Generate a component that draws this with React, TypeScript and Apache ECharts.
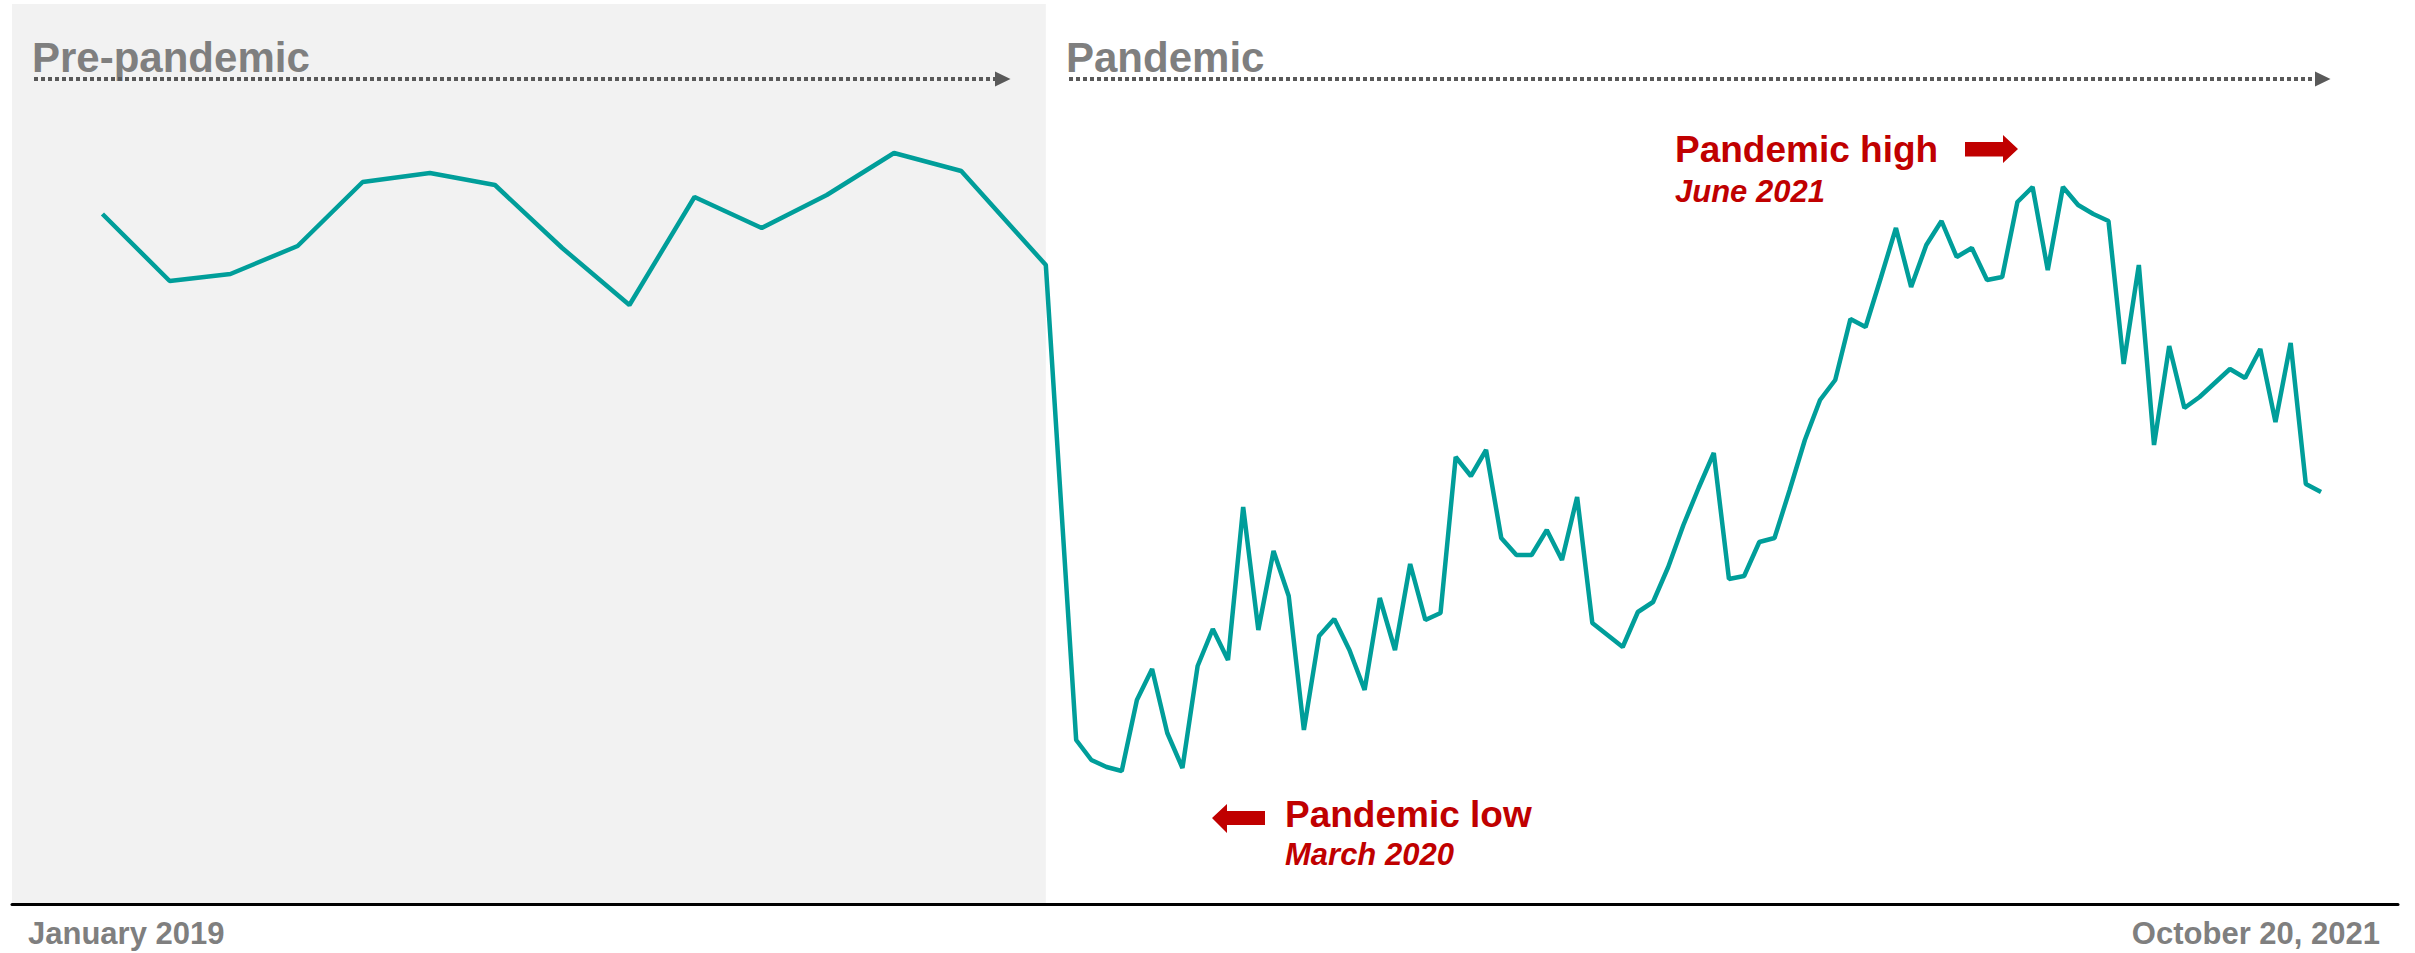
import React, { useEffect, useRef } from 'react';
import * as echarts from 'echarts';

// ---- data ----
const monthlyDates = [
  '2019-01-01', '2019-02-01', '2019-03-01', '2019-04-01', '2019-05-01', '2019-06-01',
  '2019-07-01', '2019-08-01', '2019-09-01', '2019-10-01', '2019-11-01', '2019-12-01',
  '2020-01-01', '2020-02-01', '2020-03-11',
];
const monthlyValues = [69.0, 62.3, 63.0, 65.8, 72.2, 73.1, 71.9, 65.6, 59.9, 70.7, 67.6, 70.9, 75.1, 73.3, 63.9];

const weeklyStart = '2020-03-25';
const weeklyValues = [
  16.4, 14.4, 13.7, 13.3, 20.4, 23.5, 17.1, 13.6, 23.8, 27.5,
  24.4, 39.7, 27.4, 35.3, 30.8, 17.4, 26.8, 28.5, 25.4, 21.4,
  30.6, 25.4, 34.0, 28.4, 29.1, 44.7, 42.8, 45.4, 36.6, 34.9,
  34.9, 37.4, 34.4, 40.7, 28.1, 26.9, 25.7, 29.2, 30.2, 33.7,
  37.9, 41.6, 45.1, 32.5, 32.8, 36.2, 36.6, 41.4, 46.4, 50.4,
  52.4, 58.5, 57.7, 62.6, 67.6, 61.7, 65.9, 68.3, 64.7, 65.6,
  62.4, 62.7, 70.2, 71.7, 63.4, 71.7, 69.9, 69.0, 68.3, 54.0,
  63.9, 45.9, 55.8, 49.6, 50.7, 52.1, 53.5, 52.6, 55.5, 48.2,
  56.1, 42.0, 41.2,
];

const pandemicStart = '2020-03-11';
const phaseLabels = ['Pre-pandemic', 'Pandemic'];
const lowLabels = ['Pandemic low', 'March 2020'];
const highLabels = ['Pandemic high', 'June 2021'];
const axisEndLabels = ['January 2019', 'October 20, 2021'];

// ---- helpers ----
const DAY = 86400000;
const ts = (s: string) => {
  const [y, m, d] = s.split('-').map(Number);
  return Date.UTC(y, m - 1, d);
};

const FONT = '"Liberation Sans", Arial, Helvetica, sans-serif';
const GREY_TEXT = '#7F7F7F';
const RED = '#C00000';
const DOT = '#595959';

export default function App() {
  const ref = useRef<HTMLDivElement>(null);

  useEffect(() => {
    document.body.style.margin = '0';
    if (!ref.current) return;
    const chart = echarts.init(ref.current, undefined, { renderer: 'svg' });

    const weekStartTs = ts(weeklyStart);
    const data: [number, number][] = [
      ...monthlyDates.map((d, i) => [ts(d), monthlyValues[i]] as [number, number]),
      ...weeklyValues.map((v, i) => [weekStartTs + i * 7 * DAY, v] as [number, number]),
    ];

    const xMin = ts('2019-01-01') - 41.7 * DAY;
    const xMax = ts('2021-10-20') + 35.5 * DAY;

    const text = (t: string, x: number, y: number, size: number, color: string, opts: any = {}) => ({
      type: 'text',
      x,
      y,
      z: 100,
      silent: true,
      style: {
        text: t,
        fill: color,
        font: `${opts.italic ? 'italic ' : ''}bold ${size}px ${FONT}`,
        align: opts.align || 'left',
        verticalAlign: 'middle',
      },
    });

    const dotted = (x1: number, x2: number, y: number) => [
      {
        type: 'line',
        z: 100,
        silent: true,
        shape: { x1, y1: y, x2, y2: y },
        style: { stroke: DOT, lineWidth: 4, lineDash: [4, 3] },
      },
      {
        type: 'polygon',
        z: 100,
        silent: true,
        shape: { points: [[x2, y - 7.5], [x2 + 15.5, y], [x2, y + 7.5]] },
        style: { fill: DOT },
      },
    ];

    chart.setOption({
      animation: false,
      backgroundColor: '#FFFFFF',
      grid: { left: 12, right: 17, top: 4, bottom: 49, containLabel: false },
      xAxis: {
        type: 'time',
        min: xMin,
        max: xMax,
        axisLine: { show: true, onZero: false, lineStyle: { color: '#000000', width: 3 } },
        axisTick: { show: false },
        axisLabel: { show: false },
        splitLine: { show: false },
      },
      yAxis: {
        type: 'value',
        min: 0,
        max: 90,
        show: false,
        splitLine: { show: false },
      },
      series: [
        {
          type: 'line',
          data,
          showSymbol: false,
          symbol: 'none',
          lineStyle: { color: '#009E9A', width: 4.5 },
          z: 3,
          markArea: {
            silent: true,
            itemStyle: { color: '#F2F2F2' },
            data: [[{ xAxis: xMin }, { xAxis: ts(pandemicStart) }]],
            z: 0,
          },
        },
      ],
      graphic: [
        text(phaseLabels[0], 32, 57, 42, GREY_TEXT),
        text(phaseLabels[1], 1066, 57, 42, GREY_TEXT),
        ...dotted(34, 995, 79),
        ...dotted(1069, 2315, 79),
        text(highLabels[0], 1675, 149, 37, RED),
        text(highLabels[1], 1675, 191, 31, RED, { italic: true }),
        {
          type: 'polygon',
          z: 100,
          silent: true,
          shape: {
            points: [[1965, 142], [2003, 142], [2003, 135], [2018, 149], [2003, 163], [2003, 156.5], [1965, 156.5]],
          },
          style: { fill: RED },
        },
        text(lowLabels[0], 1285, 814, 37, RED),
        text(lowLabels[1], 1285, 854, 31, RED, { italic: true }),
        {
          type: 'polygon',
          z: 100,
          silent: true,
          shape: {
            points: [[1212, 818], [1227, 804], [1227, 811], [1265, 811], [1265, 825], [1227, 825], [1227, 833]],
          },
          style: { fill: RED },
        },
        text(axisEndLabels[0], 28, 933, 31, GREY_TEXT),
        text(axisEndLabels[1], 2380, 933, 31, GREY_TEXT, { align: 'right' }),
      ],
    });

    return () => chart.dispose();
  }, []);

  return (
    <div
      ref={ref}
      style={{ position: 'absolute', left: 0, top: 0, width: 2415, height: 953, background: '#fff' }}
    />
  );
}
